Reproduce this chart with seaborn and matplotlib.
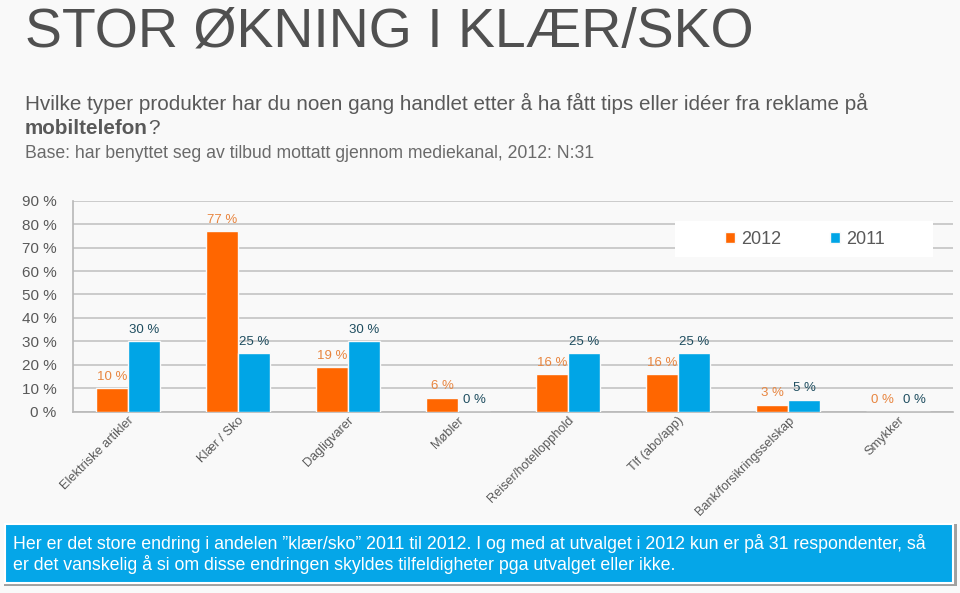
import matplotlib
matplotlib.use("Agg")
import matplotlib.pyplot as plt
import seaborn as sns
import pandas as pd
from matplotlib.patches import Rectangle

categories = ["Elektriske artikler", "Klær / Sko", "Dagligvarer", "Møbler",
              "Reiser/hotellopphold", "Tlf (abo/app)", "Bank/forsikringsselskap", "Smykker"]
values_2012 = [10, 77, 19, 6, 16, 16, 3, 0]
values_2011 = [30, 25, 30, 0, 25, 25, 5, 0]
years = ["2012", "2011"]
yticks = [0, 10, 20, 30, 40, 50, 60, 70, 80, 90]

df = pd.DataFrame({
    "Kategori": categories * 2,
    "Verdi": values_2012 + values_2011,
    "År": [years[0]] * len(categories) + [years[1]] * len(categories),
})

sns.set_theme(style="white")
plt.rcParams["font.family"] = ["Liberation Sans", "DejaVu Sans"]

BG = "#f9f9f9"
ORANGE = "#ff6600"
BLUE = "#00a5e6"
GREY = "#595959"

fig = plt.figure(figsize=(9.6, 5.93), dpi=100, facecolor=BG)
ax = fig.add_axes([73 / 960, 1 - 411.7 / 593, 880 / 960, 211 / 593])
ax.set_facecolor(BG)

sns.barplot(data=df, x="Kategori", y="Verdi", hue="År", hue_order=years,
            palette=[ORANGE, BLUE], width=0.58, saturation=1,
            edgecolor=BG, linewidth=1.0, ax=ax, zorder=3)

ax.set_ylim(0, 90)
ax.set_xlim(-0.5, len(categories) - 0.5)
ax.set_yticks(yticks)
ax.set_yticklabels([f"{v} %" for v in yticks], color=GREY, fontsize=11)
ax.yaxis.grid(True, color="#c4c4c4", linewidth=1.2, zorder=0)
ax.set_axisbelow(True)
ax.tick_params(axis="y", length=0, pad=12)

ax.set_xticks(range(len(categories)))
ax.set_xticklabels(categories, rotation=45, ha="right", rotation_mode="anchor",
                   color=GREY, fontsize=9.2)
ax.tick_params(axis="x", length=0, pad=2)
ax.set_xticks([i - 0.5 for i in range(len(categories) + 1)], minor=True)
ax.tick_params(axis="x", which="minor", length=4, color="#b0b0b0", width=1)

ax.set_xlabel("")
ax.set_ylabel("")
for s in ["top", "right"]:
    ax.spines[s].set_visible(False)
for s in ["left", "bottom"]:
    ax.spines[s].set_color("#b8b8b8")
    ax.spines[s].set_linewidth(1.2)

label_colors = ["#e8853f", "#1f4e60"]
for cont, col in zip(ax.containers, label_colors):
    ax.bar_label(cont, labels=[f"{v:.0f} %" for v in cont.datavalues],
                 padding=4, color=col, fontsize=9.5)

# legend with white box behind
ax.add_patch(Rectangle((0.684, 0.733), 0.293, 0.171, transform=ax.transAxes,
                       facecolor="white", edgecolor="none", zorder=4))
leg = ax.legend(loc="center", bbox_to_anchor=(0.832, 0.818), ncol=2,
                frameon=False, fontsize=13, handlelength=0.55, handleheight=0.55,
                columnspacing=2.7, handletextpad=0.35, borderpad=0.0,
                labelcolor=GREY)
leg.set_zorder(6)

# Titles
fig.text(25 / 960, 1 - 47 / 593, "STOR ØKNING I KLÆR/SKO", fontsize=40,
         color="#505050", ha="left", va="baseline")
fig.text(25 / 960, 1 - 110 / 593,
         "Hvilke typer produkter har du noen gang handlet etter å ha fått tips eller idéer fra reklame på",
         fontsize=14.85, color=GREY, ha="left", va="baseline")
t_bold = fig.text(25 / 960, 1 - 134 / 593, "mobiltelefon", fontsize=14.85, color=GREY,
                  ha="left", va="baseline", fontweight="bold")
fig.canvas.draw()
bb = t_bold.get_window_extent()
fig.text(bb.x1 / 960 + 0.5 / 960, 1 - 134 / 593, "?", fontsize=14.85, color=GREY,
         ha="left", va="baseline")
fig.text(25 / 960, 1 - 158 / 593,
         "Base: har benyttet seg av tilbud mottatt gjennom mediekanal, 2012: N:31",
         fontsize=12.7, color="#6a6a6a", ha="left", va="baseline")

# Bottom box
fig.patches.append(Rectangle((4 / 960, 1 - 586 / 593), 953 / 960, 62 / 593,
                             transform=fig.transFigure, facecolor="#a0a0a0",
                             edgecolor="none", zorder=0))
fig.patches.append(Rectangle((5 / 960, 1 - 583 / 593), 948 / 960, 59 / 593,
                             transform=fig.transFigure, facecolor="#05a6e8",
                             edgecolor="white", linewidth=1.5, zorder=1))
fig.text(13 / 960, 1 - 549 / 593,
         "Her er det store endring i andelen \u201dklær/sko\u201d 2011 til 2012. I og med at utvalget i 2012 kun er på 31 respondenter, så",
         fontsize=12.8, color="white", ha="left", va="baseline")
fig.text(13 / 960, 1 - 570 / 593,
         "er det vanskelig å si om disse endringen skyldes tilfeldigheter pga utvalget eller ikke.",
         fontsize=12.8, color="white", ha="left", va="baseline")

fig.savefig("out.png", dpi=100, facecolor=BG)
